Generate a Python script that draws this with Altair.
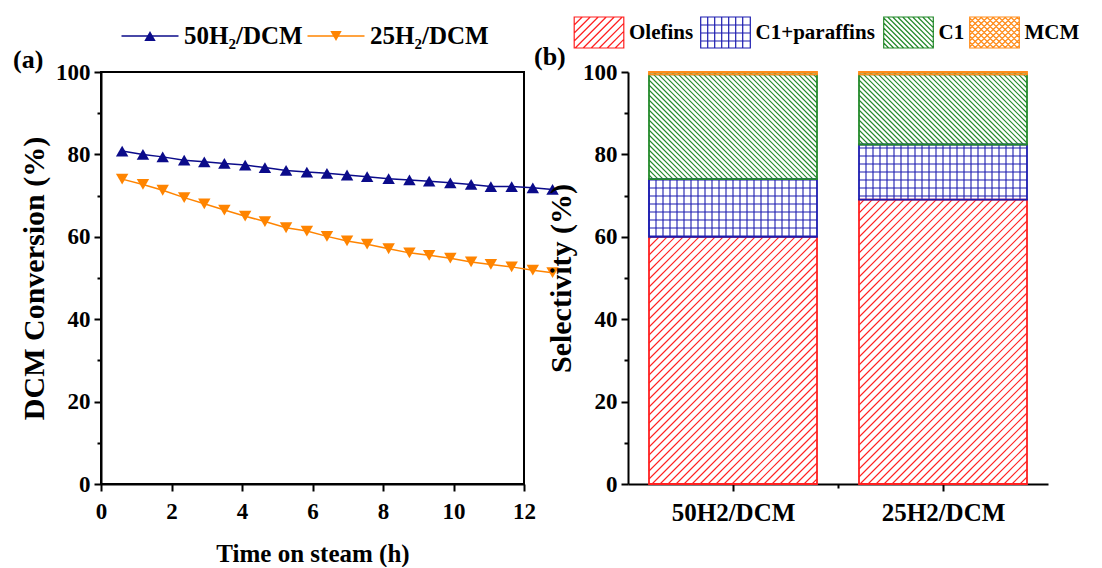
import altair as alt
import numpy as np
import pandas as pd

FONT = "Liberation Serif"

# ---------------- Panel (a): DCM conversion vs time on steam ----------------
time_h = [0.60, 1.19, 1.75, 2.36, 2.93, 3.50, 4.09, 4.65, 5.25, 5.84, 6.41,
          6.98, 7.55, 8.16, 8.75, 9.31, 9.91, 10.50, 11.06, 11.65, 12.25, 12.81]
conv_50 = [80.8, 80.0, 79.4, 78.6, 78.2, 77.8, 77.4, 76.8, 76.1, 75.7, 75.4,
           75.0, 74.6, 74.1, 73.8, 73.5, 73.1, 72.7, 72.2, 72.2, 71.9, 71.5]
conv_25 = [74.0, 72.7, 71.3, 69.5, 68.0, 66.5, 65.0, 63.7, 62.2, 61.4, 60.1,
           59.0, 58.2, 57.1, 56.1, 55.5, 54.8, 53.9, 53.3, 52.7, 51.9, 51.3]
series_names = ["50H\u2082/DCM", "25H\u2082/DCM"]
series_colors = ["#0b0b8a", "#ff8400"]
series_shapes = ["triangle-up", "triangle-down"]

# ---------------- Panel (b): selectivity ----------------
categories = ["50H2/DCM", "25H2/DCM"]
components = ["Olefins", "C1+paraffins", "C1", "MCM"]
olefins = [60.0, 69.0]
c1_paraffins = [14.0, 13.4]
c1 = [25.4, 17.0]
mcm = [0.6, 0.6]
comp_colors = ["#ff2020", "#1c1cb0", "#23892a", "#ff8c1a"]

# ---------------- layout / style constants ----------------
W_A, W_B, H = 423, 420, 412
X_SPAN_B = len(categories)
BAR_HALF = 0.4
PX_X = W_B / X_SPAN_B
PX_Y = H / 100.0
hatch_style = {"Olefins": ("fwd", 8.0), "C1+paraffins": ("grid", (7.0, 8.0)),
               "C1": ("back", 5.0), "MCM": ("cross", 6.0)}
# legend layout (pixels, relative to each plot's top-left corner)
LEG_A_CX, LEG_A_Y, LEG_A_HALF, LEG_A_TXT = [49, 235], -36, 28.5, 34
LEG_B_CX, LEG_B_Y, LEG_B_TXT = [-29, 97.5, 280.5, 366.5], -39.5, 30
MAJOR, MINOR = 7, 4

# ---------------- Panel (a) ----------------
df_a = pd.DataFrame({
    "time": time_h + time_h,
    "value": conv_50 + conv_25,
    "series": [series_names[0]] * len(time_h) + [series_names[1]] * len(time_h),
})

col_scale = alt.Scale(domain=series_names, range=series_colors)
xs_a = alt.Scale(domain=[0, 12], nice=False)
ys = alt.Scale(domain=[0, 100], nice=False)


def ticks(test):
    return {"condition": {"test": test, "value": MAJOR}, "value": MINOR}


ax_x_a = alt.Axis(values=list(range(0, 13)),
                  labelExpr="datum.value % 2 === 0 ? datum.label : ''",
                  tickSize=ticks("datum.value % 2 === 0"),
                  title="Time on steam (h)")
ax_y_a = alt.Axis(values=list(range(0, 101, 10)),
                  labelExpr="datum.value % 20 === 0 ? datum.label : ''",
                  tickSize=ticks("datum.value % 20 === 0"),
                  title="DCM Conversion (%)")

layers_a = [alt.Chart(df_a).mark_line(strokeWidth=1.5).encode(
    x=alt.X("time:Q", scale=xs_a, axis=ax_x_a),
    y=alt.Y("value:Q", scale=ys, axis=ax_y_a),
    color=alt.Color("series:N", scale=col_scale, legend=None),
)]
for name, shp in zip(series_names, series_shapes):
    layers_a.append(alt.Chart(df_a).transform_filter(
        alt.datum.series == name
    ).mark_point(shape=shp, filled=True, size=155, opacity=1).encode(
        x="time:Q", y="value:Q",
        color=alt.Color("series:N", scale=col_scale, legend=None),
    ))

# legend (a): line + marker + label
for i, (name, shp) in enumerate(zip(series_names, series_shapes)):
    base = alt.Chart(pd.DataFrame({"series": [name]}))
    cx = LEG_A_CX[i]
    layers_a.append(base.mark_rule(strokeWidth=1.5).encode(
        x=alt.value(cx - LEG_A_HALF), x2=alt.value(cx + LEG_A_HALF), y=alt.value(LEG_A_Y),
        color=alt.Color("series:N", scale=col_scale, legend=None)))
    layers_a.append(base.mark_point(shape=shp, filled=True, size=130, opacity=1).encode(
        x=alt.value(cx), y=alt.value(LEG_A_Y),
        color=alt.Color("series:N", scale=col_scale, legend=None)))
    layers_a.append(base.mark_text(align="left", baseline="middle", font=FONT, fontSize=25,
                                   fontWeight="bold", color="black").encode(
        x=alt.value(cx + LEG_A_TXT), y=alt.value(LEG_A_Y), text="series:N"))

left = alt.layer(*layers_a).properties(
    width=W_A, height=H,
    view=alt.ViewBackground(stroke="black", strokeWidth=2),
    title=alt.TitleParams("(a)", anchor="start", frame="group", dx=-88, dy=70,
                          offset=0, baseline="alphabetic", font=FONT,
                          fontSize=26, fontWeight="bold", color="black"),
)

# ---------------- Panel (b) ----------------
comp_values = {"Olefins": olefins, "C1+paraffins": c1_paraffins, "C1": c1, "MCM": mcm}


def hatch(x0, x1, y0, y1, style, sp):
    a0, a1, b0, b1 = x0 * PX_X, x1 * PX_X, y0 * PX_Y, y1 * PX_Y
    segs = []
    if style in ("fwd", "cross"):
        k = np.floor((b0 - a1) / sp) * sp + sp
        while k < b1 - a0:
            pa, pb = max(a0, b0 - k), min(a1, b1 - k)
            if pb - pa > 0.3:
                segs.append((pa, pa + k, pb, pb + k))
            k += sp
    if style in ("back", "cross"):
        k = np.floor((a0 + b0) / sp) * sp + sp
        while k < a1 + b1:
            pa, pb = max(a0, k - b1), min(a1, k - b0)
            if pb - pa > 0.3:
                segs.append((pa, k - pa, pb, k - pb))
            k += sp
    if style == "grid":
        sx, sy = sp
        a = np.floor(a0 / sx) * sx + sx
        while a < a1 - 0.5:
            segs.append((a, b0, a, b1))
            a += sx
        b = np.floor(b0 / sy) * sy + sy
        while b < b1 - 0.5:
            segs.append((a0, b, a1, b))
            b += sy
    return [(p / PX_X, q / PX_Y, r / PX_X, t / PX_Y) for p, q, r, t in segs]


rect_rows, hatch_rows = [], []
for i, cat in enumerate(categories):
    base_v = 0.0
    for comp in components:
        v = comp_values[comp][i]
        x0, x1 = i + 0.5 - BAR_HALF, i + 0.5 + BAR_HALF
        rect_rows.append({"category": cat, "component": comp, "x0": x0, "x1": x1,
                          "y0": base_v, "y1": base_v + v})
        style, sp = hatch_style[comp]
        for hx, hy, hx2, hy2 in hatch(x0, x1, base_v, base_v + v, style, sp):
            hatch_rows.append({"component": comp, "hx": hx, "hy": hy, "hx2": hx2, "hy2": hy2})
        base_v += v
df_rect = pd.DataFrame(rect_rows)
df_hatch = pd.DataFrame(hatch_rows)

comp_scale = alt.Scale(domain=components, range=comp_colors)
xs_b = alt.Scale(domain=[0, X_SPAN_B], nice=False)
label_expr = " : ".join(
    f"datum.value == {i + 0.5} ? '{c}'" for i, c in enumerate(categories)
) + " : ''"
ax_x_b = alt.Axis(values=[0.5, 1.0, 1.5], labelExpr=label_expr, title=None,
                  tickSize=ticks("datum.value != 1"), labelFontSize=25)
ax_y_b = alt.Axis(values=list(range(0, 101, 10)),
                  labelExpr="datum.value % 20 === 0 ? datum.label : ''",
                  tickSize=ticks("datum.value % 20 === 0"),
                  title="Selectivity (%)")

layers_b = []
for comp, colr in zip(components, comp_colors):
    layers_b.append(alt.Chart(df_hatch).transform_filter(
        alt.datum.component == comp
    ).mark_rule(strokeWidth=1.1, color=colr, opacity=1).encode(
        x=alt.X("hx:Q", scale=xs_b, axis=ax_x_b), x2="hx2:Q",
        y=alt.Y("hy:Q", scale=ys, axis=ax_y_b), y2="hy2:Q",
    ))
layers_b.append(alt.Chart(df_rect).mark_rect(filled=False, strokeWidth=1.8).encode(
    x=alt.X("x0:Q", scale=xs_b, axis=ax_x_b), x2="x1:Q",
    y=alt.Y("y0:Q", scale=ys, axis=ax_y_b), y2="y1:Q",
    color=alt.Color("component:N", scale=comp_scale, legend=None),
))

# legend (b): hatched swatches drawn as custom symbol paths
UNIT = 15.5
HW, HH = 1.6, 1.0


def swatch(style, sp):
    parts = [f"M{-HW},{-HH}H{HW}V{HH}H{-HW}Z"]
    if style == "grid":
        sx, sy = sp[0] / UNIT, sp[1] / UNIT
        x = -HW + sx
        while x < HW - 0.05:
            parts.append(f"M{x:.3f},{-HH}V{HH}")
            x += sx
        y = -HH + sy
        while y < HH - 0.05:
            parts.append(f"M{-HW},{y:.3f}H{HW}")
            y += sy
        return "".join(parts)
    s = sp / UNIT
    if style in ("fwd", "cross"):
        c = -HW - HH + s
        while c < HW + HH:
            xa, xb = max(-HW, c - HH), min(HW, c + HH)
            if xb - xa > 0.02:
                parts.append(f"M{xa:.3f},{c - xa:.3f}L{xb:.3f},{c - xb:.3f}")
            c += s
    if style in ("back", "cross"):
        c = -HW - HH + s
        while c < HW + HH:
            xa, xb = max(-HW, c - HH), min(HW, c + HH)
            if xb - xa > 0.02:
                parts.append(f"M{xa:.3f},{xa - c:.3f}L{xb:.3f},{xb - c:.3f}")
            c += s
    return "".join(parts)


for i, comp in enumerate(components):
    base = alt.Chart(pd.DataFrame({"component": [comp]}))
    cx = LEG_B_CX[i]
    layers_b.append(base.mark_point(shape=swatch(*hatch_style[comp]), size=UNIT * UNIT * 4,
                                    filled=False, strokeWidth=1.2, opacity=1).encode(
        x=alt.value(cx), y=alt.value(LEG_B_Y),
        color=alt.Color("component:N", scale=comp_scale, legend=None)))
    layers_b.append(base.mark_text(align="left", baseline="middle", font=FONT, fontSize=21,
                                   fontWeight="bold", color="black").encode(
        x=alt.value(cx + LEG_B_TXT), y=alt.value(LEG_B_Y), text="component:N"))

right = alt.layer(*layers_b).properties(
    width=W_B, height=H,
    title=alt.TitleParams("(b)", anchor="start", frame="group", dx=-94, dy=76,
                          offset=0, baseline="alphabetic", font=FONT,
                          fontSize=26, fontWeight="bold", color="black"),
)

chart = alt.hconcat(left, right, spacing=104, bounds="flush").resolve_scale(
    color="independent"
).properties(
    padding={"left": 12, "top": 14, "right": 0, "bottom": 0}
).configure(font=FONT).configure_view(stroke=None).configure_axis(
    domainColor="black", domainWidth=2, tickColor="black", tickWidth=2,
    labelFont=FONT, labelFontWeight="bold", labelFontSize=23,
    labelColor="black", titleFont=FONT, titleFontWeight="bold", titleColor="black",
    grid=False, labelFlush=False, labelOverlap=False,
).configure_axisX(
    titleFontSize=25, titlePadding=18, labelPadding=9,
).configure_axisY(
    titleFontSize=30, titlePadding=6, labelPadding=4,
)

chart.save("out.html", embed_options={"renderer": "svg", "actions": False})
